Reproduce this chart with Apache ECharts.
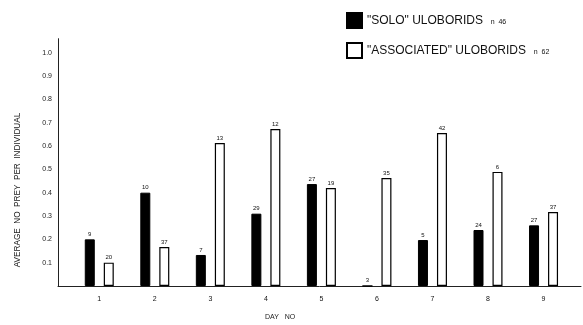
<!DOCTYPE html>
<html>
<head>
<meta charset="utf-8">
<script src="https://cdn.jsdelivr.net/npm/echarts@6/dist/echarts.min.js"></script>
<style>html,body{margin:0;padding:0;background:#fff}#c{width:583px;height:325px}</style>
</head>
<body>
<div id="c"></div>
<script>
var days = ['1','2','3','4','5','6','7','8','9'];
var soloValues = [0.20, 0.40, 0.133, 0.31, 0.437, 0, 0.197, 0.24, 0.26];
var assocValues = [0.10, 0.167, 0.613, 0.673, 0.42, 0.463, 0.656, 0.489, 0.317];
var soloN = ['9','10','7','29','27','3','5','24','27'];
var assocN = ['20','37','13','12','19','35','42','6','37'];
var seriesNames = ['"SOLO" ULOBORIDS', '"ASSOCIATED" ULOBORIDS'];
var seriesTotals = ['46', '62'];
var yMax = 1.06;

var chart = echarts.init(document.getElementById('c'), null, {renderer: 'canvas'});
var FONT = 'Liberation Sans';
chart.setOption({
  animation: false,
  backgroundColor: '#fff',
  textStyle: {fontFamily: FONT},
  grid: [
    {left: 71.5, right: 11.7, top: 38.7, bottom: 39},
    {left: 58, right: 2, top: 38.7, bottom: 39}
  ],
  legend: {
    orient: 'vertical', left: 346, top: 12, padding: 0,
    itemWidth: 15, itemHeight: 15, itemGap: 13,
    icon: 'rect',
    data: seriesNames,
    formatter: function (name) {
      var i = seriesNames.indexOf(name);
      return '{a|' + name + '}{b|    n  ' + seriesTotals[i] + '}';
    },
    textStyle: {
      rich: {
        a: {fontSize: 12, color: '#111', fontFamily: FONT},
        b: {fontSize: 7, color: '#111', fontFamily: FONT, padding: [3, 0, 0, 0]}
      }
    }
  },
  xAxis: [
    {type: 'category', gridIndex: 0, data: days,
     axisLine: {show: false}, axisTick: {show: false},
     axisLabel: {fontSize: 7, color: '#111', margin: 10}},
    {type: 'value', gridIndex: 1, min: 0, max: 1,
     axisLine: {show: true, lineStyle: {color: '#222', width: 1}},
     axisTick: {show: false}, axisLabel: {show: false}, splitLine: {show: false}}
  ],
  yAxis: [
    {type: 'value', gridIndex: 0, min: 0, max: yMax, show: false, splitLine: {show: false}},
    {type: 'value', gridIndex: 1, min: 0, max: yMax, interval: 0.1,
     axisLine: {show: true, lineStyle: {color: '#222', width: 1}},
     axisTick: {show: false}, splitLine: {show: false},
     axisLabel: {fontSize: 7, color: '#222', margin: 6,
       formatter: function (v) {
         if (v < 0.05) return '';
         if (Math.abs(v * 10 - Math.round(v * 10)) > 1e-6) return '';
         return v.toFixed(1);
       }}}
  ],
  series: [
    {name: seriesNames[0], type: 'bar', xAxisIndex: 0, yAxisIndex: 0,
     data: soloValues, barWidth: 10, barGap: '90%',
     itemStyle: {color: '#000', borderColor: '#000', borderWidth: 1},
     label: {show: true, position: 'top', distance: 2, fontSize: 6, color: '#111',
       formatter: function (p) { return soloN[p.dataIndex]; }}},
    {name: seriesNames[1], type: 'bar', xAxisIndex: 0, yAxisIndex: 0,
     data: assocValues, barWidth: 10, barGap: '90%',
     itemStyle: {color: '#fff', borderColor: '#000', borderWidth: 1.2},
     label: {show: true, position: 'top', distance: 2, fontSize: 6, color: '#111',
       formatter: function (p) { return assocN[p.dataIndex]; }}}
  ],
  graphic: [
    {type: 'text', left: 265, top: 314,
     style: {text: 'DAY   NO', fontSize: 7, fill: '#222', fontFamily: FONT}},
    {type: 'text', x: 18, y: 190, rotation: Math.PI / 2,
     style: {text: 'AVERAGE  NO  PREY  PER  INDIVIDUAL', fontSize: 8.2, fill: '#222',
       fontFamily: FONT, align: 'center', verticalAlign: 'middle'}}
  ]
});
</script>
</body>
</html>
